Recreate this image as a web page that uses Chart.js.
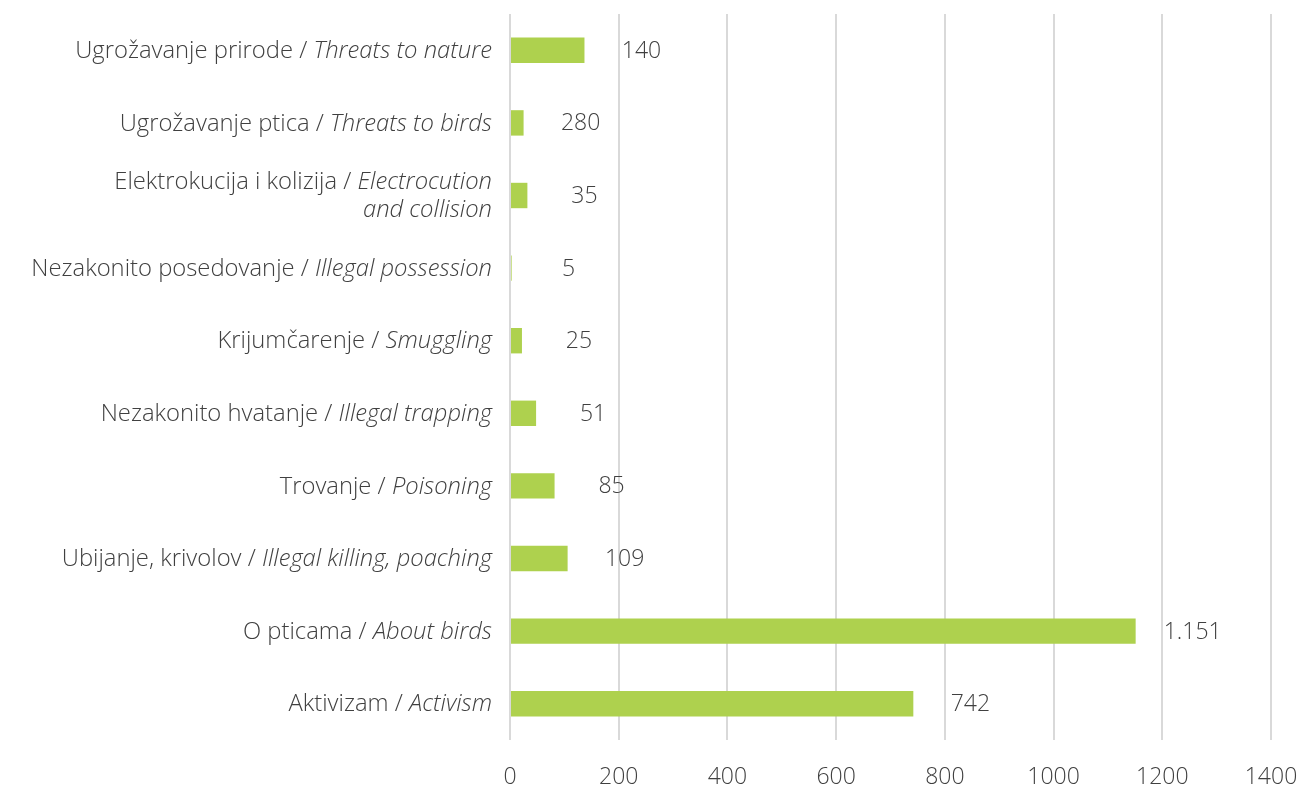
<!DOCTYPE html>
<html>
<head>
<meta charset="utf-8">
<script src="https://cdn.jsdelivr.net/npm/chart.js@4"></script>
<style>
  html, body { margin: 0; padding: 0; background: #ffffff; overflow: hidden; }
  #wrap { width: 1297px; height: 785px; position: relative; }
</style>
</head>
<body>
<div id="wrap"><canvas id="topicsChart"></canvas></div>
<script>
// Categories: local part (upright) and English part (italic)
const labelsLocal = [
    'Ugrožavanje prirode / ',
    'Ugrožavanje ptica / ',
    'Elektrokucija i kolizija / ',
    'Nezakonito posedovanje / ',
    'Krijumčarenje / ',
    'Nezakonito hvatanje / ',
    'Trovanje / ',
    'Ubijanje, krivolov / ',
    'O pticama / ',
    'Aktivizam / '
];
const labelsEnglish = [
    ['Threats to nature'],
    ['Threats to birds'],
    ['Electrocution', 'and collision'],
    ['Illegal possession'],
    ['Smuggling'],
    ['Illegal trapping'],
    ['Poisoning'],
    ['Illegal killing, poaching'],
    ['About birds'],
    ['Activism']
];
// Bar lengths as drawn
const values = [137, 25, 32, 3, 22, 48, 82, 106, 1151, 742];
// Value labels as printed next to the bars
const valueLabels = ['140', '280', '35', '5', '25', '51', '85', '109', '1.151', '742'];
const xTicks = [0, 200, 400, 600, 800, 1000, 1200, 1400];

const FONT = '"Open Sans"';
const TEXT_COLOR = '#404040';

// Draws the mixed upright/italic category labels and the value labels
const labelPlugin = {
    id: 'labelPlugin',
    afterDraw(chart) {
        const ctx = chart.ctx;
        const yScale = chart.scales.y;
        const right = chart.chartArea.left - 18;
        const meta = chart.getDatasetMeta(0);
        ctx.save();
        ctx.fillStyle = TEXT_COLOR;
        ctx.textBaseline = 'middle';
        const normalFont = '300 23.8px ' + FONT;
        const italicFont = 'italic 300 23.8px ' + FONT;
        const lineH = 28;

        labelsLocal.forEach(function(local, i) {
            const y = yScale.getPixelForValue(i) + 1;
            const lines = labelsEnglish[i];
            const startY = y - (lines.length - 1) * lineH / 2;
            // first line: local part + first english part
            ctx.font = italicFont;
            const engW = ctx.measureText(lines[0]).width;
            ctx.textAlign = 'right';
            ctx.fillText(lines[0], right, startY);
            ctx.font = normalFont;
            ctx.fillText(local, right - engW, startY);
            // remaining english lines
            ctx.font = italicFont;
            for (let j = 1; j < lines.length; j++) {
                ctx.fillText(lines[j], right, startY + j * lineH);
            }
        });

        // value labels
        ctx.font = '300 23px ' + FONT;
        ctx.textAlign = 'center';
        meta.data.forEach(function(bar, i) {
            ctx.fillText(valueLabels[i], bar.x + 57, bar.y + 1);
        });
        ctx.restore();
    }
};

const ctx = document.getElementById('topicsChart').getContext('2d');

new Chart(ctx, {
    type: 'bar',
    data: {
        labels: labelsLocal.map(function(l, i) { return l + labelsEnglish[i].join(' '); }),
        datasets: [{
            data: values,
            backgroundColor: '#aed14e',
            borderWidth: 0,
            barPercentage: 0.7,
            categoryPercentage: 0.5
        }]
    },
    options: {
        indexAxis: 'y',
        responsive: true,
        maintainAspectRatio: false,
        animation: false,
        layout: {
            padding: { left: 510, right: 26, top: 14, bottom: 0 }
        },
        plugins: {
            legend: { display: false },
            tooltip: { enabled: false }
        },
        scales: {
            x: {
                min: 0,
                max: 1400,
                afterBuildTicks: function(scale) {
                    scale.ticks = xTicks.map(function(v) { return { value: v }; });
                },
                afterFit: function(scale) {
                    scale.height = 45;
                    scale.paddingLeft = 0;
                    scale.paddingRight = 0;
                },
                grid: {
                    color: '#d9d9d9',
                    lineWidth: 2,
                    drawTicks: false
                },
                border: { display: false },
                ticks: {
                    color: TEXT_COLOR,
                    padding: 24,
                    font: { family: 'Open Sans', size: 23, weight: '300' },
                    callback: function(v) { return String(v); }
                }
            },
            y: {
                display: false
            }
        }
    },
    plugins: [labelPlugin]
});
</script>
</body>
</html>
